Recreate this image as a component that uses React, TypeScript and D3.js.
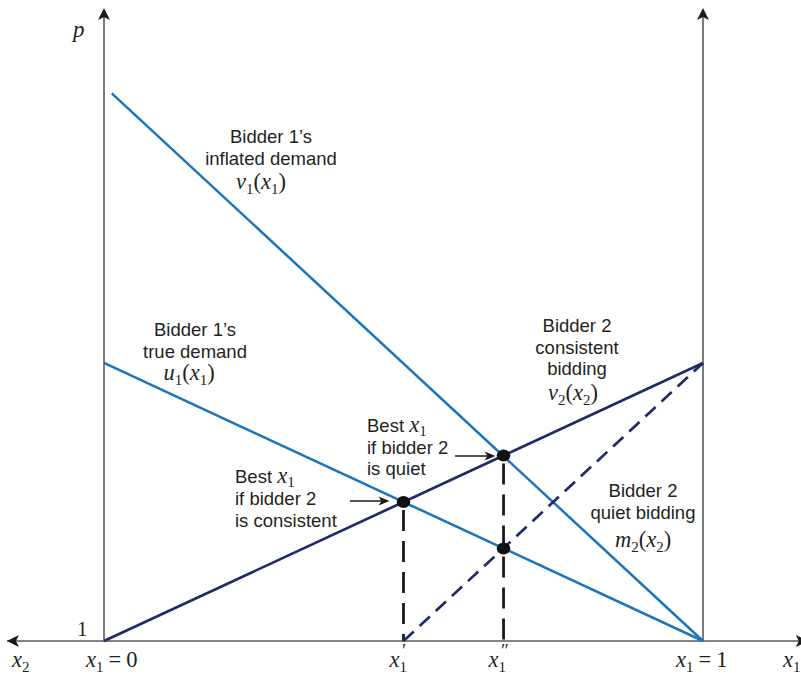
import React from 'react';
import * as d3 from 'd3';

// x1 share (0..1) and price p
const inflatedDemand = [
  { x: 0.013, p: 1.97 },
  { x: 1, p: 0 },
];
const trueDemand = [
  { x: 0, p: 1 },
  { x: 1, p: 0 },
];
const consistentBidding = [
  { x: 0, p: 0 },
  { x: 1, p: 1 },
];
const quietBidding = [
  { x: 0.5, p: 0 },
  { x: 1, p: 1 },
];
const optimumPoints = [
  { x: 0.5, p: 0.5 },
  { x: 0.667, p: 0.667 },
  { x: 0.667, p: 0.333 },
];
const dropLines = [
  { x: 0.5, p: 0.5 },
  { x: 0.667, p: 0.667 },
];

const width = 801;
const height = 679;

const BLUE = '#1b75bc';
const NAVY = '#1f2a68';
const AXIS = '#5a5a5a';
const INK = '#231f20';
const SANS = '"Liberation Sans", Arial, Helvetica, sans-serif';
const SERIF = '"Liberation Serif", "Times New Roman", serif';

// a function label such as v1(x1)
function fnLabel(f: string, fi: string, a: string, ai: string) {
  return (
    <>
      <tspan fontStyle="italic">{f}</tspan>
      <tspan fontSize={15} dy={5}>{fi}</tspan>
      <tspan dy={-5}>(</tspan>
      <tspan fontStyle="italic">{a}</tspan>
      <tspan fontSize={15} dy={5}>{ai}</tspan>
      <tspan dy={-5}>)</tspan>
    </>
  );
}

function SansBlock({ x, y, lines, anchor = 'middle' }: any) {
  return (
    <text x={x} y={y} fontFamily={SANS} fontSize={18.5} fill={INK} textAnchor={anchor}>
      {lines.map((l: any, i: number) => (
        <tspan key={i} x={x} dy={i === 0 ? 0 : 21.5}>{l}</tspan>
      ))}
    </text>
  );
}

export default function App() {
  const xScale = d3.scaleLinear().domain([0, 1]).range([104, 703]);
  const yScale = d3.scaleLinear().domain([0, 2.284]).range([641, 6]);

  const line = d3
    .line<{ x: number; p: number }>()
    .x((d) => xScale(d.x))
    .y((d) => yScale(d.p));

  const y0 = yScale(0);
  const xL = xScale(-0.162);
  const xR = xScale(1.175);
  const yTop = yScale(2.284);

  const arrowHead = (tx: number, ty: number, dir: 'up' | 'left' | 'right', len = 10, half = 5.5) => {
    if (dir === 'up') return `M${tx},${ty} L${tx - half},${ty + len} L${tx},${ty + len - 3} L${tx + half},${ty + len} Z`;
    if (dir === 'left') return `M${tx},${ty} L${tx + len},${ty - half} L${tx + len - 3},${ty} L${tx + len},${ty + half} Z`;
    return `M${tx},${ty} L${tx - len},${ty - half} L${tx - len + 3},${ty} L${tx - len},${ty + half} Z`;
  };

  const mathSize = 22.5;

  return (
    <svg width={width} height={height} style={{ position: 'absolute', left: 0, top: 0, background: '#fff' }}>
      {/* axes */}
      <g stroke={AXIS} strokeWidth={1.6} fill="none">
        <line x1={xL} x2={xR} y1={y0} y2={y0} />
        <line x1={xScale(0)} x2={xScale(0)} y1={y0} y2={yTop + 4} />
        <line x1={xScale(1)} x2={xScale(1)} y1={y0} y2={yTop + 4} />
      </g>
      <g fill="#1a1a1a">
        <path d={arrowHead(xScale(0), yTop + 2, 'up', 12, 6)} />
        <path d={arrowHead(xScale(1), yTop + 2, 'up', 12, 6)} />
        <path d={arrowHead(xL, y0, 'left', 12, 6)} />
        <path d={arrowHead(xR, y0, 'right', 12, 6)} />
      </g>

      {/* drop lines */}
      <g stroke="#1a1a1a" strokeWidth={2.8} strokeDasharray="21 10">
        {dropLines.map((d, i) => (
          <line key={i} x1={xScale(d.x)} x2={xScale(d.x)} y1={yScale(d.p) + 8} y2={y0} />
        ))}
      </g>

      {/* demand and bidding curves */}
      <path d={line(inflatedDemand) || ''} stroke={BLUE} strokeWidth={2.5} fill="none" />
      <path d={line(trueDemand) || ''} stroke={BLUE} strokeWidth={2.5} fill="none" />
      <path d={line(consistentBidding) || ''} stroke={NAVY} strokeWidth={2.7} fill="none" />
      <path d={line(quietBidding) || ''} stroke={NAVY} strokeWidth={2.7} fill="none" strokeDasharray="14 8" />

      {optimumPoints.map((d, i) => (
        <ellipse key={i} cx={xScale(d.x)} cy={yScale(d.p)} rx={6.8} ry={6} fill="#111" />
      ))}

      {/* pointer arrows */}
      <g stroke="#1a1a1a" strokeWidth={1.3}>
        <line x1={350} x2={383} y1={501} y2={501} />
        <line x1={455} x2={490} y1={456} y2={456} />
      </g>
      <g fill="#1a1a1a">
        <path d={arrowHead(xScale(optimumPoints[0].x) - 14, 501, 'right', 11, 4.5)} />
        <path d={arrowHead(xScale(optimumPoints[1].x) - 8, 456, 'right', 11, 4.5)} />
      </g>

      {/* curve labels */}
      <SansBlock x={271} y={143} lines={['Bidder 1\u2019s', 'inflated demand']} />
      <text x={261} y={189} fontFamily={SERIF} fontSize={mathSize} fill={INK} textAnchor="middle">
        {fnLabel('v', '1', 'x', '1')}
      </text>

      <SansBlock x={195} y={336} lines={['Bidder 1\u2019s', 'true demand']} />
      <text x={189} y={380} fontFamily={SERIF} fontSize={mathSize} fill={INK} textAnchor="middle">
        {fnLabel('u', '1', 'x', '1')}
      </text>

      <SansBlock x={577} y={332} lines={['Bidder 2', 'consistent', 'bidding']} />
      <text x={573} y={400} fontFamily={SERIF} fontSize={mathSize} fill={INK} textAnchor="middle">
        {fnLabel('v', '2', 'x', '2')}
      </text>

      <SansBlock x={643} y={497} lines={['Bidder 2', 'quiet bidding']} />
      <text x={643} y={547} fontFamily={SERIF} fontSize={mathSize} fill={INK} textAnchor="middle">
        {fnLabel('m', '2', 'x', '2')}
      </text>

      {/* optimum labels */}
      <text x={235} y={483} fontFamily={SANS} fontSize={18.5} fill={INK}>
        Best{' '}
        <tspan fontFamily={SERIF} fontStyle="italic" fontSize={mathSize}>x</tspan>
        <tspan fontFamily={SERIF} fontSize={15} dy={4}>1</tspan>
        <tspan x={235} dy={18}>if bidder 2</tspan>
        <tspan x={235} dy={21.5}>is consistent</tspan>
      </text>
      <text x={367} y={432} fontFamily={SANS} fontSize={18.5} fill={INK}>
        Best{' '}
        <tspan fontFamily={SERIF} fontStyle="italic" fontSize={mathSize}>x</tspan>
        <tspan fontFamily={SERIF} fontSize={15} dy={4}>1</tspan>
        <tspan x={367} dy={17.5}>if bidder 2</tspan>
        <tspan x={367} dy={21.5}>is quiet</tspan>
      </text>

      {/* axis labels */}
      <text x={73} y={37} fontFamily={SERIF} fontStyle="italic" fontSize={23} fill={INK}>p</text>
      <text x={77} y={636} fontFamily={SERIF} fontSize={21} fill={INK}>1</text>

      <g fontFamily={SERIF} fontSize={mathSize} fill={INK}>
        <text x={12} y={667}>
          <tspan fontStyle="italic">x</tspan>
          <tspan fontSize={15} dy={5}>2</tspan>
        </text>
        <text x={86} y={667}>
          <tspan fontStyle="italic">x</tspan>
          <tspan fontSize={15} dy={5}>1</tspan>
          <tspan dy={-5} dx={5}>=</tspan>
          <tspan dx={5}>0</tspan>
        </text>
        <text x={xScale(0.5) - 14} y={667}>
          <tspan fontStyle="italic">x</tspan>
          <tspan fontSize={15} dy={5}>1</tspan>
          <tspan dy={-15} dx={-5} fontSize={19}>{'\u2032'}</tspan>
        </text>
        <text x={xScale(0.667) - 15} y={667}>
          <tspan fontStyle="italic">x</tspan>
          <tspan fontSize={15} dy={5}>1</tspan>
          <tspan dy={-15} dx={-5} fontSize={19}>{'\u2033'}</tspan>
        </text>
        <text x={676} y={667}>
          <tspan fontStyle="italic">x</tspan>
          <tspan fontSize={15} dy={5}>1</tspan>
          <tspan dy={-5} dx={5}>=</tspan>
          <tspan dx={5}>1</tspan>
        </text>
        <text x={783} y={667}>
          <tspan fontStyle="italic">x</tspan>
          <tspan fontSize={15} dy={5}>1</tspan>
        </text>
      </g>
    </svg>
  );
}
